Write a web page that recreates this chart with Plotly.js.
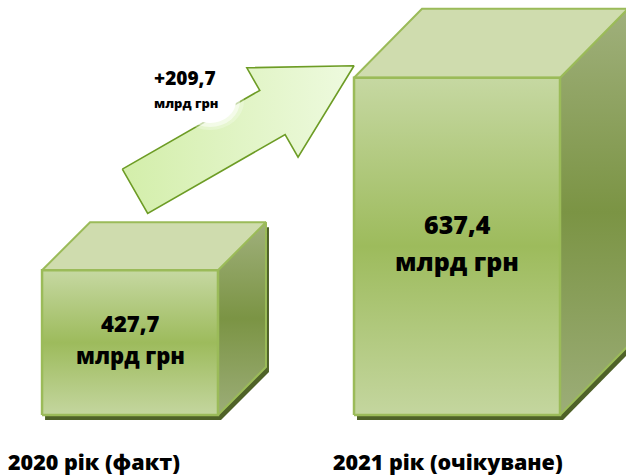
<!DOCTYPE html>
<html><head><meta charset="utf-8">
<script src="https://cdn.plot.ly/plotly-3.0.1.min.js"></script>
<style>html,body{margin:0;padding:0;background:#fff}#chart{width:626px;height:475px}</style>
</head><body><div id="chart"></div>
<script>
// ---- data ----
const categories = ['2020 рік (факт)', '2021 рік (очікуване)'];
const values = [427.7, 637.4];
const valueLabels = ['427,7', '637,4'];
const unitLabel = 'млрд грн';
const deltaLabel = '+209,7';

// ---- layout geometry ----
const W = 626, H = 475, M = {l: 0, r: 0, t: 0, b: 40};
const PW = W - M.l - M.r, PH = H - M.t - M.b;
const X_RANGE = [-0.3976, 1.5168];
const Y_RANGE = [248.2, 722.1];
const BASE = 270;
const xs = X_RANGE[1] - X_RANGE[0], ys = Y_RANGE[1] - Y_RANGE[0];
const px2x = px => X_RANGE[0] + (px - M.l) / PW * xs;
const x2px = x => M.l + (x - X_RANGE[0]) / xs * PW;
const py2y = py => Y_RANGE[0] + (M.t + PH - py) / PH * ys;
const y2py = y => M.t + PH - (y - Y_RANGE[0]) / ys * PH;
const dxu = p => p / PW * xs, dyu = p => p / PH * ys;

const barWidths = [0.538, 0.630];
const depthPx = [[48, 48], [68, 69]];
const fontSizes = [22, 25];
const idx = categories.map((c, i) => i);

const traces = [];
// base bars (front faces)
traces.push({type: 'bar', x: idx, y: values.map(v => v - BASE), base: values.map(() => BASE), width: barWidths,
  marker: {color: '#9dbb5c', line: {width: 0}}, hoverinfo: 'skip', showlegend: false});

function poly(pts, extra) {
  const xx = pts.map(p => p[0]), yy = pts.map(p => p[1]);
  xx.push(xx[0]); yy.push(yy[0]);
  return Object.assign({type: 'scatter', mode: 'lines', x: xx, y: yy, fill: 'toself', hoverinfo: 'skip', showlegend: false}, extra);
}

idx.forEach(i => {
  const w = barWidths[i], x0 = i - w / 2, x1 = i + w / 2, t = values[i], b = BASE;
  const ddx = dxu(depthPx[i][0]), ddy = dyu(depthPx[i][1]);
  const sx = dxu(3), sy = dyu(5);
  // shadow
  traces.push(poly([[x0 + sx, b - sy], [x1 + sx, b - sy], [x1 + ddx + sx, b + ddy - sy], [x1 + ddx + sx, t + ddy - sy],
    [x0 + ddx + sx, t + ddy - sy], [x0 + sx, t - sy]], {fillcolor: '#4f6228', line: {color: '#4f6228', width: 0}}));
  // side face
  traces.push(poly([[x1, b], [x1 + ddx, b + ddy], [x1 + ddx, t + ddy], [x1, t]], {
    fillcolor: '#7f9849',
    fillgradient: {type: 'vertical', colorscale: [[0, '#9cad78'], [0.5, '#7b9444'], [1, '#a0b07c']]},
    line: {color: '#9bbb59', width: 2}}));
  // top face
  traces.push(poly([[x0, t], [x1, t], [x1 + ddx, t + ddy], [x0 + ddx, t + ddy]], {
    fillcolor: '#cfdcae', line: {color: '#9bbb59', width: 2}}));
  // front face
  traces.push(poly([[x0, b], [x1, b], [x1, t], [x0, t]], {
    fillcolor: '#a5c266',
    fillgradient: {type: 'vertical', colorscale: [[0, '#c4d69f'], [0.5, '#9dbb5c'], [1, '#c6d8a2']]},
    line: {color: '#9bbb59', width: 2.5}}));
});

// arrow (from top of first box towards top of second box)
const T = [x2px(0) + 5, y2py(values[0]) - 79];
const P = [x2px(1 - barWidths[1] / 2), y2py(values[1]) - 12];
const L = Math.hypot(P[0] - T[0], P[1] - T[1]);
const u = [(P[0] - T[0]) / L, (P[1] - T[1]) / L];
const n = [u[1], -u[0]];
const sw = 25.5, hl = 94, hw = 51.5;
const B = [T[0] + u[0] * (L - hl), T[1] + u[1] * (L - hl)];
const ap = [
  [T[0] + n[0] * sw, T[1] + n[1] * sw],
  [B[0] + n[0] * sw, B[1] + n[1] * sw],
  [B[0] + n[0] * hw, B[1] + n[1] * hw],
  P,
  [B[0] - n[0] * hw, B[1] - n[1] * hw],
  [B[0] - n[0] * sw, B[1] - n[1] * sw],
  [T[0] - n[0] * sw, T[1] - n[1] * sw]
].map(p => [px2x(p[0]), py2y(p[1])]);
traces.push(poly(ap, {fillcolor: '#def2bf',
  fillgradient: {type: 'horizontal', colorscale: [[0, '#d3eeaa'], [1, '#eefadf']]},
  line: {color: '#6d9c25', width: 1.6}}));

const toPX = px => (px - M.l) / PW, toPY = py => (M.t + PH - py) / PH;
const shapes = [];
[[0.25, 34, 29], [0.5, 30, 26], [1.0, 26, 22]].forEach(([op, rx, ry]) => {
  shapes.push({type: 'circle', xref: 'paper', yref: 'paper', layer: 'above',
    x0: toPX(210 - rx), x1: toPX(210 + rx), y0: toPY(101 + ry), y1: toPY(101 - ry),
    fillcolor: 'rgba(255,255,255,' + op + ')', line: {width: 0}});
});

const font = (s) => ({family: '"Open Sans", sans-serif', size: s, color: '#000', weight: 800});
const annotations = [];
idx.forEach(i => {
  const fs = fontSizes[i];
  const mid = (BASE + values[i]) / 2;
  annotations.push({x: i, y: mid, xref: 'x', yref: 'y', text: valueLabels[i], showarrow: false,
    font: font(fs), yshift: fs * 0.88, xanchor: 'center', yanchor: 'middle'});
  annotations.push({x: i, y: mid, xref: 'x', yref: 'y', text: unitLabel, showarrow: false,
    font: font(fs), yshift: -fs * 0.58, xanchor: 'center', yanchor: 'middle'});
});
const labelCenters = [94, 448];
categories.forEach((c, i) => {
  annotations.push({x: toPX(labelCenters[i]), y: toPY(462), xref: 'paper', yref: 'paper', text: c,
    showarrow: false, font: font(21.5), xanchor: 'center', yanchor: 'middle'});
});
annotations.push({x: toPX(185), y: toPY(78), xref: 'paper', yref: 'paper', text: deltaLabel,
  showarrow: false, font: font(19), xanchor: 'center', yanchor: 'middle'});
annotations.push({x: toPX(186), y: toPY(102.5), xref: 'paper', yref: 'paper', text: unitLabel,
  showarrow: false, font: font(13), xanchor: 'center', yanchor: 'middle'});

const layout = {
  width: W, height: H, margin: M, paper_bgcolor: '#fff', plot_bgcolor: '#fff',
  showlegend: false, hovermode: false, barmode: 'overlay',
  xaxis: {range: X_RANGE, visible: false, fixedrange: true},
  yaxis: {range: Y_RANGE, visible: false, fixedrange: true},
  shapes: shapes, annotations: annotations
};
Plotly.newPlot('chart', traces, layout, {displayModeBar: false, staticPlot: true});
</script></body></html>
